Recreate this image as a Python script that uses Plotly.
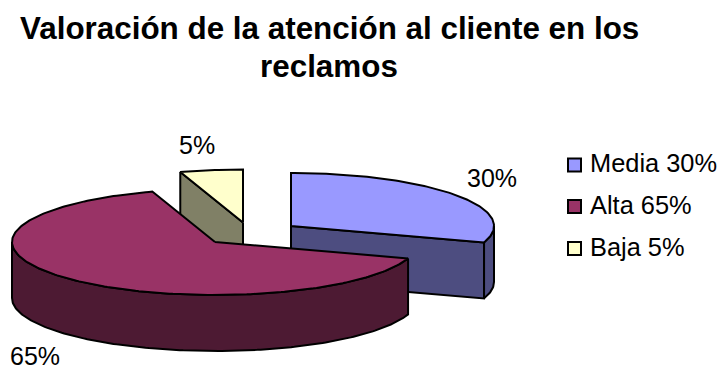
import numpy as np
import plotly.graph_objects as go

# Chart content
title_lines = ["Valoración de la atención al cliente en los", "reclamos"]
categories = ["Media", "Alta", "Baja"]
values = [30, 65, 5]
top_colors = ["#9999FF", "#993366", "#FFFFCC"]
side_colors = ["#4D4D80", "#4D1A33", "#808066"]

# Exploded wedge centres and the ellipse used for the tilted pie
centers = {"Media": (291, 226), "Alta": (215, 242), "Baja": (243, 222.5)}
RX, RY, DEPTH = 203, 53, 56
FONT = "Liberation Sans, Arial, sans-serif"


def rim(cx, cy, a0, a1, dz=0.0):
    t = np.radians(np.linspace(a0, a1, max(2, int(abs(a1 - a0)) + 1)))
    return cx + RX * np.sin(t), cy - RY * np.cos(t) + dz


fig = go.Figure()


def poly(xs, ys, color):
    fig.add_trace(go.Scatter(
        x=xs, y=ys, mode="lines", fill="toself", fillcolor=color,
        line=dict(color="black", width=2), hoverinfo="skip", showlegend=False,
    ))


# Start and end angle of each wedge, clockwise from twelve o'clock
ends = np.cumsum(values) * 3.6
starts = ends - np.array(values) * 3.6
spans = {c: (s, e) for c, s, e in zip(categories, starts, ends)}
colors = {c: (t, d) for c, t, d in zip(categories, top_colors, side_colors)}

# Back wedges go first so the large wedge overlaps them
for name in ["Baja", "Media", "Alta"]:
    a0, a1 = spans[name]
    top, side = colors[name]
    cx, cy = centers[name]

    # Cut faces turned towards the viewer
    for ang, visible in ((a0, np.sin(np.radians(a0)) < -1e-6), (a1, np.sin(np.radians(a1)) > 1e-6)):
        if visible:
            ex, ey = rim(cx, cy, ang, ang + 1e-6)
            poly([cx, ex[0], ex[0], cx, cx], [cy, ey[0], ey[0] + DEPTH, cy + DEPTH, cy], side)

    # Outer wall on the front half of the rim
    w0, w1 = max(a0, 90), min(a1, 270)
    if w1 > w0:
        ux, uy = rim(cx, cy, w0, w1)
        poly(np.r_[ux, ux[::-1], ux[0]], np.r_[uy, uy[::-1] + DEPTH, uy[0]], side)

    # Top face
    tx, ty = rim(cx, cy, a0, a1)
    poly(np.r_[cx, tx, cx], np.r_[cy, ty, cy], top)

# Percentage labels beside the wedges
label_x = [492, 35, 197]
label_y = [178, 356, 145]
annotations = [
    dict(x=x, y=y, text=f"{v}%", showarrow=False, xanchor="center", yanchor="middle",
         font=dict(family=FONT, size=25, color="black"))
    for x, y, v in zip(label_x, label_y, values)
]

# Hand-placed legend column
legend_y = [165, 206.5, 248.5]
fig.add_trace(go.Scatter(
    x=[574.5] * 3, y=legend_y, mode="markers", hoverinfo="skip", showlegend=False,
    marker=dict(symbol="square", size=13, color=top_colors, line=dict(color="black", width=2)),
))
for c, v, y in zip(categories, values, legend_y):
    annotations.append(dict(
        x=587.5, y=y - 2, text=f"{c} {v}%", showarrow=False, xanchor="left", yanchor="middle",
        font=dict(family=FONT, size=25.4, color="black"),
    ))

# Two-line bold title
for line, y in zip(title_lines, [28, 66]):
    annotations.append(dict(
        x=329, y=y, text=f"<b>{line}</b>", showarrow=False, xanchor="center", yanchor="middle",
        font=dict(family=FONT, size=31.4, color="black"),
    ))

fig.update_layout(
    width=723, height=369, margin=dict(l=0, r=0, t=0, b=0),
    paper_bgcolor="white", plot_bgcolor="white", annotations=annotations,
    xaxis=dict(range=[0, 723], visible=False, fixedrange=True),
    yaxis=dict(range=[369, 0], visible=False, fixedrange=True),
)
fig.write_html("out.html", config={"displayModeBar": False})
